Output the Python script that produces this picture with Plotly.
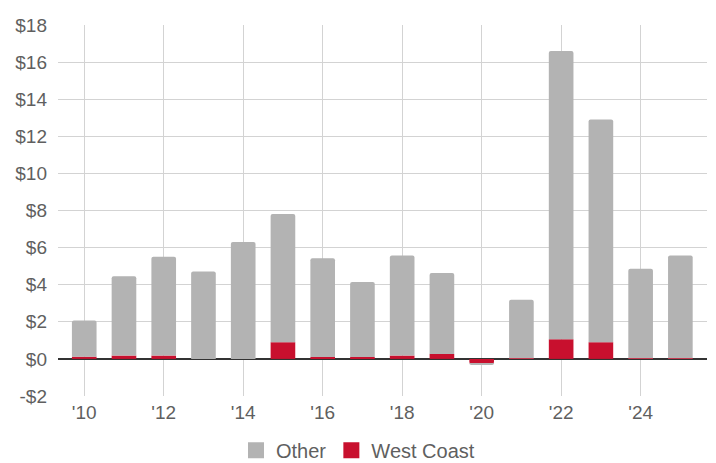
import plotly.graph_objects as go

years = list(range(2010, 2026))
west_coast = [0.12, 0.18, 0.18, 0.0, 0.0, 0.90, 0.10, 0.10, 0.18, 0.27, -0.27, 0.03, 1.06, 0.90, 0.03, 0.03]
other = [1.95, 4.28, 5.33, 4.71, 6.30, 6.91, 5.32, 4.04, 5.40, 4.36, -0.04, 3.16, 15.54, 12.00, 4.83, 5.55]

x_tick_vals = list(range(2010, 2025, 2))
x_tick_text = ["'10", "'12", "'14", "'16", "'18", "'20", "'22", "'24"]
y_tick_vals = list(range(-2, 19, 2))
y_tick_text = ["-$2", "$0", "$2", "$4", "$6", "$8", "$10", "$12", "$14", "$16", "$18"]

GRAY = "#b3b3b3"
RED = "#c8102e"
TEXT = "#5f5f5f"

fig = go.Figure()
fig.add_trace(go.Bar(x=years, y=west_coast, name="West Coast", showlegend=False,
                     marker=dict(color=RED, line=dict(width=0)), width=0.62))
fig.add_trace(go.Bar(x=years, y=other, name="Other", showlegend=False,
                     marker=dict(color=GRAY, line=dict(width=0)), width=0.62))

# legend entries with larger square swatches
for name, color in [("Other", GRAY), ("West Coast", RED)]:
    fig.add_trace(go.Scatter(x=[None], y=[None], mode="markers", name=name,
                             marker=dict(symbol="square", size=17, color=color)))

fig.update_layout(
    width=716, height=463,
    barmode="relative",
    barcornerradius=2,
    paper_bgcolor="white", plot_bgcolor="white",
    margin=dict(l=58, r=9, t=25, b=67, autoexpand=False),
    font=dict(family="Liberation Sans, Arial, sans-serif", size=19, color=TEXT),
    showlegend=True,
    legend=dict(orientation="h", xref="container", x=0.5, xanchor="center",
                y=-0.146, yanchor="middle",
                font=dict(size=20, color=TEXT), itemsizing="trace"),
    xaxis=dict(range=[2009.34, 2025.67], tickvals=x_tick_vals, ticktext=x_tick_text,
               showgrid=True, gridcolor="#d3d3d3", gridwidth=1,
               zeroline=False, showline=False, ticks="", ticklen=0,
               ticklabelstandoff=3,
               tickfont=dict(size=19, color=TEXT)),
    yaxis=dict(range=[-2, 18], tickvals=y_tick_vals, ticktext=y_tick_text,
               showgrid=True, gridcolor="#d3d3d3", gridwidth=1,
               zeroline=True, zerolinecolor="#333333", zerolinewidth=1.5,
               showline=False, ticks="", ticklabelstandoff=10,
               tickfont=dict(size=19, color=TEXT)),
)

fig.write_html("out.html")
